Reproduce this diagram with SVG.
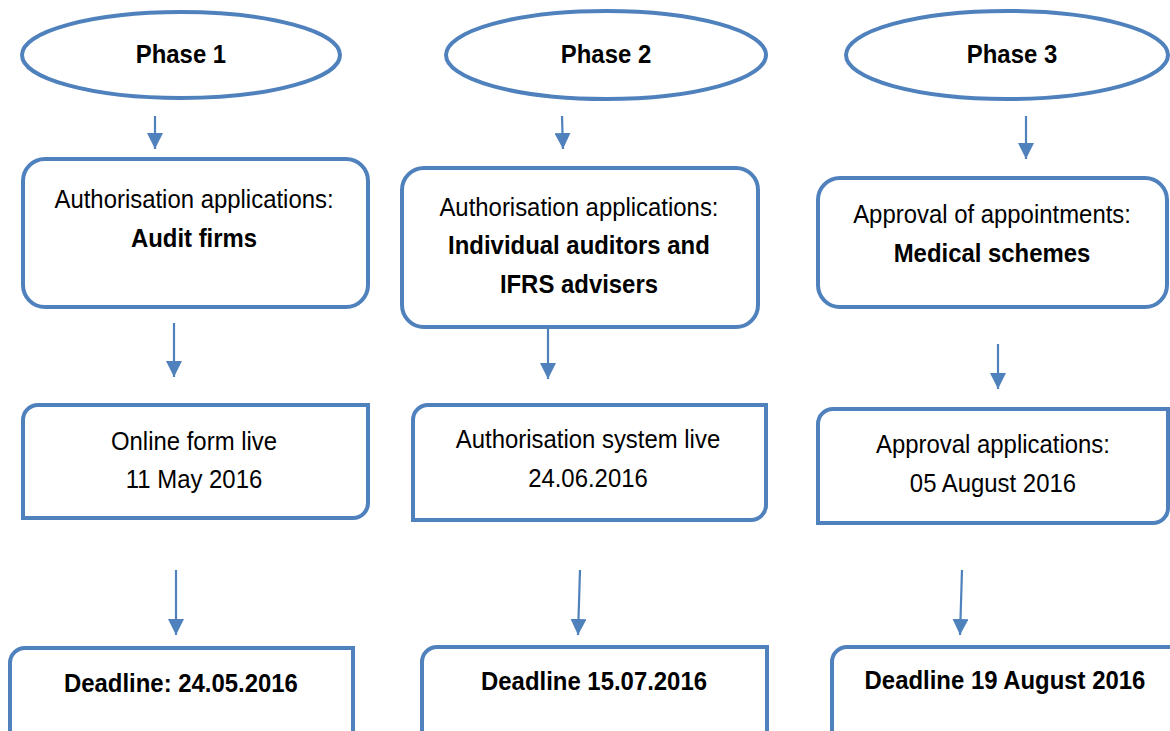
<svg xmlns="http://www.w3.org/2000/svg" width="1170" height="731" viewBox="0 0 1170 731">
<style>
.shape{fill:#ffffff;stroke:#4F81BD;stroke-width:4}
.t{font-family:"Liberation Sans",Arial,sans-serif;font-size:26px;fill:#000;text-anchor:middle}
.b{font-weight:bold}
.conn{stroke:#4F81BD;stroke-width:2.2;fill:none;marker-end:url(#ah)}
</style>
<defs>
<marker id="ah" markerUnits="userSpaceOnUse" markerWidth="16" markerHeight="16" refX="16" refY="8" orient="auto">
<path d="M0,0 L16,8 L0,16 Z" fill="#4F81BD"/>
</marker>
</defs>
<rect width="1170" height="731" fill="#ffffff"/>
<g id="connectors">
<line class="conn" x1="155" y1="116" x2="155" y2="149"/>
<line class="conn" x1="562" y1="116" x2="563" y2="149"/>
<line class="conn" x1="1026" y1="116" x2="1026" y2="159"/>
<line class="conn" x1="174" y1="323" x2="174" y2="377"/>
<line class="conn" x1="548" y1="329" x2="548" y2="379"/>
<line class="conn" x1="998" y1="344" x2="998" y2="389"/>
<line class="conn" x1="176" y1="570" x2="176" y2="635"/>
<line class="conn" x1="580" y1="570" x2="578" y2="635"/>
<line class="conn" x1="962" y1="570" x2="960" y2="635"/>
</g>
<g id="phase1">
<ellipse class="shape" cx="181" cy="55" rx="159" ry="43"/>
<text class="t b" transform="scale(0.92,1)" x="196.7" y="63">Phase 1</text>
</g>
<g id="phase2">
<ellipse class="shape" cx="606" cy="55" rx="160" ry="44"/>
<text class="t b" transform="scale(0.92,1)" x="658.7" y="63">Phase 2</text>
</g>
<g id="phase3">
<ellipse class="shape" cx="1007" cy="55" rx="161" ry="44"/>
<text class="t b" transform="scale(0.92,1)" x="1100" y="63">Phase 3</text>
</g>
<g id="auth-firms">
<rect class="shape" x="23" y="159" width="345" height="148" rx="22"/>
<text class="t" transform="scale(0.92,1)" x="210.9" y="208">Authorisation applications:</text>
<text class="t b" transform="scale(0.92,1)" x="210.9" y="247">Audit firms</text>
</g>
<g id="auth-individuals">
<rect class="shape" x="402" y="168" width="356" height="159" rx="22"/>
<text class="t" transform="scale(0.92,1)" x="629.3" y="216">Authorisation applications:</text>
<text class="t b" transform="scale(0.92,1)" x="629.3" y="254">Individual auditors and</text>
<text class="t b" transform="scale(0.92,1)" x="629.3" y="293">IFRS advisers</text>
</g>
<g id="approval-medical">
<rect class="shape" x="818" y="178" width="349" height="129" rx="22"/>
<text class="t" transform="scale(0.92,1)" x="1078.3" y="223">Approval of appointments:</text>
<text class="t b" transform="scale(0.92,1)" x="1078.3" y="262">Medical schemes</text>
</g>
<g id="online-form">
<path class="shape" d="M38,405 H368 V503 A15,15 0 0 1 353,518 H23 V420 A15,15 0 0 1 38,405 Z"/>
<text class="t" transform="scale(0.92,1)" x="210.9" y="450">Online form live</text>
<text class="t" transform="scale(0.92,1)" x="210.9" y="488">11 May 2016</text>
</g>
<g id="system-live">
<path class="shape" d="M428,405 H766 V505 A15,15 0 0 1 751,520 H413 V420 A15,15 0 0 1 428,405 Z"/>
<text class="t" transform="scale(0.92,1)" x="639.1" y="448">Authorisation system live</text>
<text class="t" transform="scale(0.92,1)" x="639.1" y="487">24.06.2016</text>
</g>
<g id="approval-apps">
<path class="shape" d="M833,409 H1168 V508 A15,15 0 0 1 1153,523 H818 V424 A15,15 0 0 1 833,409 Z"/>
<text class="t" transform="scale(0.92,1)" x="1079.3" y="453">Approval applications:</text>
<text class="t" transform="scale(0.92,1)" x="1079.3" y="492">05 August 2016</text>
</g>
<g id="deadline1">
<path class="shape" d="M25,648 H353 V745 A15,15 0 0 1 338,760 H10 V663 A15,15 0 0 1 25,648 Z"/>
<text class="t b" transform="scale(0.92,1)" x="196.7" y="692">Deadline: 24.05.2016</text>
</g>
<g id="deadline2">
<path class="shape" d="M437,647 H767 V745 A15,15 0 0 1 752,760 H422 V662 A15,15 0 0 1 437,647 Z"/>
<text class="t b" transform="scale(0.92,1)" x="645.7" y="690">Deadline 15.07.2016</text>
</g>
<g id="deadline3">
<path class="shape" d="M847,647 H1185 V745 A15,15 0 0 1 1170,760 H832 V662 A15,15 0 0 1 847,647 Z"/>
<text class="t b" transform="scale(0.92,1)" x="1092.4" y="689">Deadline 19 August 2016</text>
</g>
</svg>
